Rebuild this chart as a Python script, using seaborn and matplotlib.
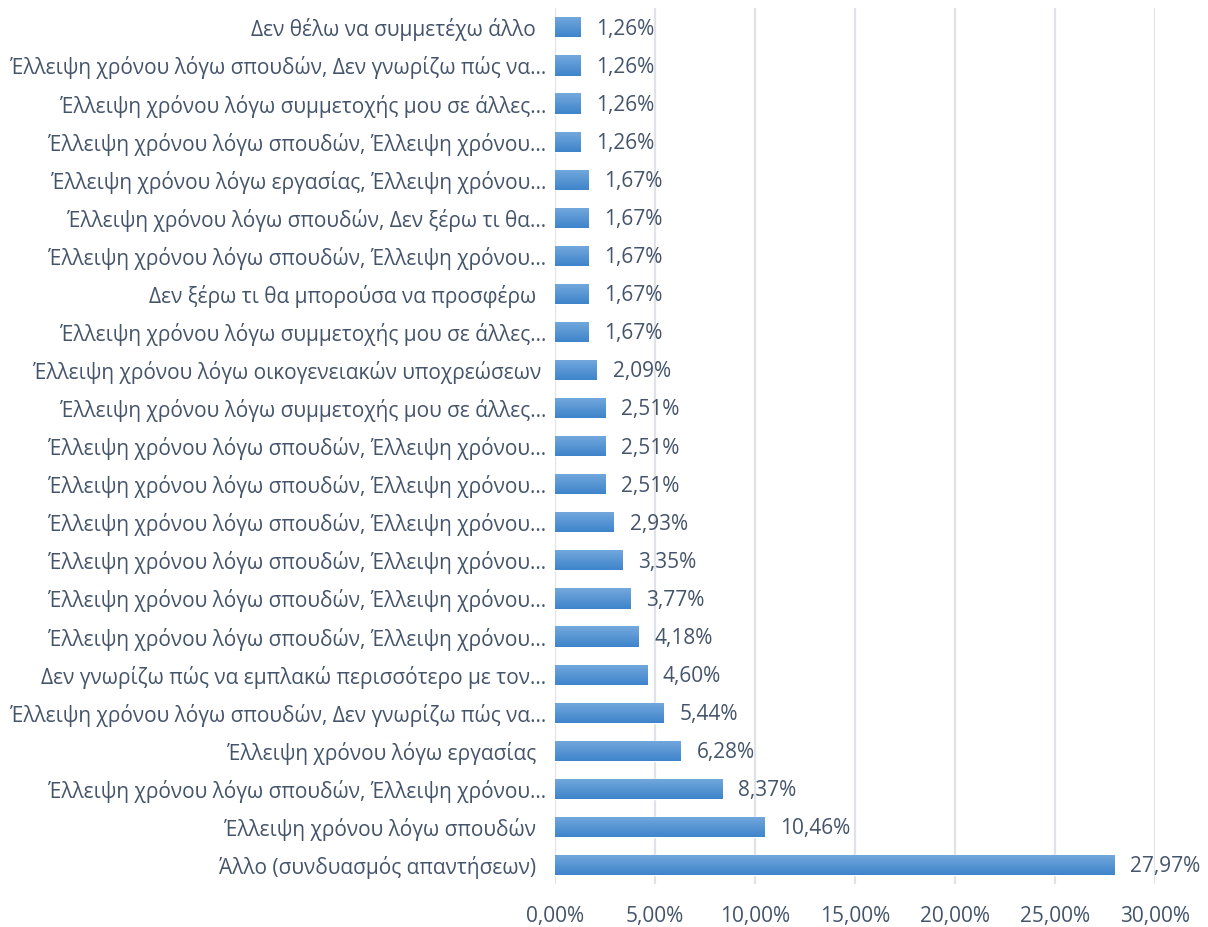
import matplotlib
matplotlib.use("Agg")
import matplotlib.pyplot as plt
import seaborn as sns
import numpy as np
import pandas as pd

# Responses (top to bottom as shown in the chart)
labels = [
    "Δεν θέλω να συμμετέχω άλλο  ",
    "Έλλειψη χρόνου λόγω σπουδών, Δεν γνωρίζω πώς να…",
    "Έλλειψη χρόνου λόγω συμμετοχής μου σε άλλες…",
    "Έλλειψη χρόνου λόγω σπουδών, Έλλειψη χρόνου…",
    "Έλλειψη χρόνου λόγω εργασίας, Έλλειψη χρόνου…",
    "Έλλειψη χρόνου λόγω σπουδών, Δεν ξέρω τι θα…",
    "Έλλειψη χρόνου λόγω σπουδών, Έλλειψη χρόνου…",
    "Δεν ξέρω τι θα μπορούσα να προσφέρω  ",
    "Έλλειψη χρόνου λόγω συμμετοχής μου σε άλλες…",
    "Έλλειψη χρόνου λόγω οικογενειακών υποχρεώσεων ",
    "Έλλειψη χρόνου λόγω συμμετοχής μου σε άλλες…",
    "Έλλειψη χρόνου λόγω σπουδών, Έλλειψη χρόνου…",
    "Έλλειψη χρόνου λόγω σπουδών, Έλλειψη χρόνου…",
    "Έλλειψη χρόνου λόγω σπουδών, Έλλειψη χρόνου…",
    "Έλλειψη χρόνου λόγω σπουδών, Έλλειψη χρόνου…",
    "Έλλειψη χρόνου λόγω σπουδών, Έλλειψη χρόνου…",
    "Έλλειψη χρόνου λόγω σπουδών, Έλλειψη χρόνου…",
    "Δεν γνωρίζω πώς να εμπλακώ περισσότερο με τον…",
    "Έλλειψη χρόνου λόγω σπουδών, Δεν γνωρίζω πώς να…",
    "Έλλειψη χρόνου λόγω εργασίας  ",
    "Έλλειψη χρόνου λόγω σπουδών, Έλλειψη χρόνου…",
    "Έλλειψη χρόνου λόγω σπουδών  ",
    "Άλλο (συνδυασμός απαντήσεων)  ",
]
values = [1.26, 1.26, 1.26, 1.26, 1.67, 1.67, 1.67, 1.67, 1.67, 2.09,
          2.51, 2.51, 2.51, 2.93, 3.35, 3.77, 4.18, 4.60, 5.44, 6.28,
          8.37, 10.46, 27.97]
x_ticks = [0, 5, 10, 15, 20, 25, 30]

TEXT = '#44546a'
GRID = '#dfe3e8'
FS = 15

sns.set_style('white')
plt.rcParams['font.family'] = ['Open Sans', 'DejaVu Sans']

df = pd.DataFrame({'pos': range(len(values)), 'value': values})

fig = plt.figure(figsize=(12.08, 9.27), dpi=100)
ax = fig.add_axes([0.4594, 0.0464, 0.4967, 0.9446])

sns.barplot(data=df, x='value', y='pos', orient='h', color='#5b9bd5',
            width=0.53, ax=ax, zorder=3)

# gradient fill like the Excel bars
grad = np.linspace(0, 1, 64).reshape(-1, 1)
cmap = matplotlib.colors.LinearSegmentedColormap.from_list('bar', ['#74a9dd', '#3e84cb'])
for p in ax.patches:
    x0, y0 = p.get_x(), p.get_y()
    w, h = p.get_width(), p.get_height()
    im = ax.imshow(grad, cmap=cmap, aspect='auto', zorder=4,
                   extent=[x0, x0 + w, y0 + h, y0], interpolation='bilinear')
    im.set_clip_path(p)

for i, v in enumerate(values):
    ax.text(v + 0.8, i + 0.05, f"{v:.2f}%".replace('.', ','), va='center', ha='left',
            fontsize=FS, color=TEXT, zorder=5)

ax.set_xlim(0, 30)
ax.set_ylim(len(values) - 0.5, -0.5)
ax.set_xticks(x_ticks)
ax.set_xticklabels([f"{t:.2f}%".replace('.', ',') for t in x_ticks], fontsize=FS, color=TEXT)
ax.set_yticks(range(len(labels)))
ax.set_yticklabels(labels, fontsize=FS, color=TEXT)
ax.tick_params(axis='both', length=0)
ax.tick_params(axis='x', pad=16)
ax.tick_params(axis='y', pad=6)
ax.set_xlabel('')
ax.set_ylabel('')
ax.grid(axis='x', color=GRID, linewidth=1.6, zorder=0)
ax.grid(axis='y', visible=False)
for s in ax.spines.values():
    s.set_visible(False)

fig.savefig('out.png', dpi=100, facecolor='white')
